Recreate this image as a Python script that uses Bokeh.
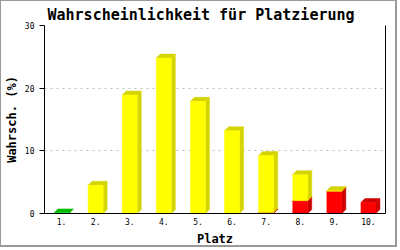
from bokeh.plotting import figure
from bokeh.models import LinearAxis, FixedTicker, ColumnDataSource
from bokeh.embed import file_html
from bokeh.resources import INLINE

# ---- data ----
places = ["1.", "2.", "3.", "4.", "5.", "6.", "7.", "8.", "9.", "10."]
green = [0.1, 0, 0, 0, 0, 0, 0, 0, 0, 0]
red = [0, 0, 0, 0, 0, 0, 0.15, 2.05, 3.55, 1.75]
yellow = [0, 4.5, 18.9, 24.8, 17.9, 13.2, 9.1, 4.15, 0.1, 0]
y_ticks = [0, 10, 20, 30]

series = [
    (green, "#00dd00", "#00bb00"),
    (red, "#ff0000", "#cc0000"),
    (yellow, "#ffff00", "#d4d400"),
]

FONT = "DejaVu Sans Mono"
p = figure(width=397, height=247, x_range=(0.5, 10.5), y_range=(0, 30),
           output_backend="svg", toolbar_location=None,
           min_border_left=42, min_border_right=13, min_border_top=24,
           min_border_bottom=34, title="Wahrscheinlichkeit für Platzierung")
p.styles = {"border-left": "1px solid #999999", "border-top": "1px solid #999999",
            "border-right": "2px solid #999999", "border-bottom": "2px solid #999999"}
p.outline_line_color = None
p.background_fill_color = "white"
p.border_fill_color = "white"

p.title.text_font = FONT
p.title.text_font_style = "bold"
p.title.text_font_size = "15px"
p.title.text_color = "black"
p.title.align = "left"
p.title.offset = 3
p.title.standoff = 3

# 3D bar geometry (depth in data units for this frame: 4px)
half_w = 0.22
dx = 4 * 10 / 342
dy = 4 * 30 / 189

fx0, fx1, fy0, fy1, fcol = [], [], [], [], []
pxs, pys, pcol = [], [], []
base = [0.0] * len(places)
for vals, front, dark in series:
    for i, v in enumerate(vals):
        if v <= 0:
            continue
        c = i + 1
        b = base[i]
        t = b + v
        l, r = c - half_w, c + half_w
        fx0.append(l); fx1.append(r); fy0.append(b); fy1.append(t); fcol.append(front)
        pxs.append([r, r + dx, r + dx, r]); pys.append([b, b + dy, t + dy, t]); pcol.append(dark)
        pxs.append([l, l + dx, r + dx, r]); pys.append([t, t + dy, t + dy, t]); pcol.append(dark)
        base[i] = t

# draw each segment (side/top faces, then front) in stacking order
for j in range(len(fx0)):
    s_side = ColumnDataSource(dict(xs=[pxs[2 * j], pxs[2 * j + 1]], ys=[pys[2 * j], pys[2 * j + 1]],
                                   color=[pcol[2 * j], pcol[2 * j + 1]]))
    p.patches("xs", "ys", source=s_side, fill_color="color", line_color="color", line_width=0.5)
    s_front = ColumnDataSource(dict(left=[fx0[j]], right=[fx1[j]], bottom=[fy0[j]], top=[fy1[j]],
                                    color=[fcol[j]]))
    p.quad(left="left", right="right", bottom="bottom", top="top", source=s_front,
           fill_color="color", line_color="color", line_width=0.5)

# axes
p.xaxis.ticker = FixedTicker(ticks=list(range(1, len(places) + 1)))
p.xaxis.major_label_overrides = {i + 1: lab for i, lab in enumerate(places)}
p.xaxis.major_tick_out = 0
p.xaxis.major_tick_in = 0
p.xaxis.minor_tick_out = 0
p.xaxis.minor_tick_in = 0
p.xaxis.major_label_standoff = 4
p.xaxis.axis_label = "Platz"
p.xaxis.axis_label_standoff = 4

p.yaxis.ticker = FixedTicker(ticks=y_ticks)
p.yaxis.major_tick_out = 5
p.yaxis.major_tick_in = 0
p.yaxis.minor_tick_out = 0
p.yaxis.minor_tick_in = 0
p.yaxis.major_label_standoff = 5
p.yaxis.axis_label = "Wahrsch. (%)"
p.yaxis.axis_label_standoff = 3

for ax in (p.xaxis[0], p.yaxis[0]):
    ax.axis_line_color = "black"
    ax.major_tick_line_color = "black"
    ax.major_label_text_font = FONT
    ax.major_label_text_font_size = "8px"
    ax.major_label_text_color = "black"
    ax.axis_label_text_font = FONT
    ax.axis_label_text_font_size = "12px"
    ax.axis_label_text_font_style = "bold"
    ax.axis_label_text_color = "black"

right = LinearAxis(ticker=FixedTicker(ticks=[]), major_tick_out=0, major_tick_in=0,
                   minor_tick_out=0, minor_tick_in=0, major_label_text_font_size="0px",
                   axis_line_color="black")
p.add_layout(right, "right")

p.xgrid.grid_line_color = None
p.ygrid.ticker = FixedTicker(ticks=y_ticks)
p.ygrid.grid_line_color = "#c0c0c0"
p.ygrid.grid_line_dash = "2 4"

open("out.html", "w").write(file_html(p, INLINE))
